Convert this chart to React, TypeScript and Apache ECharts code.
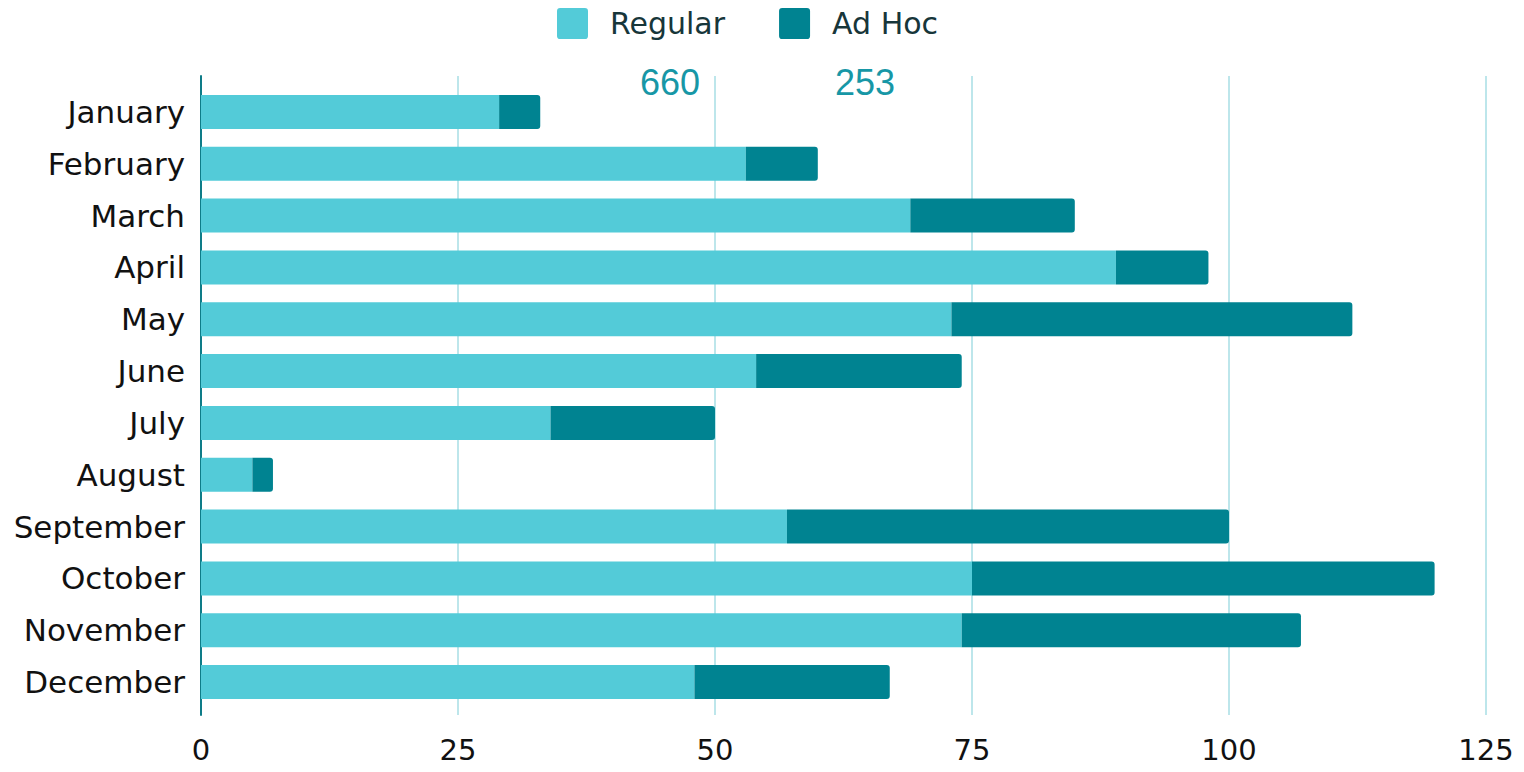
import React, { useEffect, useRef } from "react";
import * as echarts from "echarts";

const months = ["January","February","March","April","May","June","July","August","September","October","November","December"];
const regular = [29, 53, 69, 89, 73, 54, 34, 5, 57, 75, 74, 48];
const adHoc = [4, 7, 16, 9, 39, 20, 16, 2, 43, 45, 33, 19];
const seriesNames = ["Regular", "Ad Hoc"];
const colors = ["#53CBD8", "#008391"];

export default function App() {
  const ref = useRef<HTMLDivElement>(null);
  useEffect(() => {
    if (!ref.current) return;
    const chart = echarts.init(ref.current, null, { renderer: "svg" });
    const sumR = regular.reduce((a, b) => a + b, 0);
    const sumA = adHoc.reduce((a, b) => a + b, 0);
    const font = "DejaVu Sans";
    const icon = "path://M1,0 H9 A1,1 0 0 1 10,1 V9 A1,1 0 0 1 9,10 H1 A1,1 0 0 1 0,9 V1 A1,1 0 0 1 1,0 Z";
    chart.setOption({
      animation: false,
      textStyle: { fontFamily: font },
      legend: {
        left: 557,
        top: 8,
        padding: 0,
        itemWidth: 31,
        itemHeight: 31,
        itemGap: 54,
        icon,
        data: seriesNames,
        textStyle: { fontSize: 30, color: "#17363a", fontFamily: font, padding: [4, 0, 0, 17] },
      },
      graphic: [
        { type: "text", left: 640, top: 64, style: { text: String(sumR), font: "36px 'Liberation Sans'", fill: "#1797A6" } },
        { type: "text", left: 835, top: 64, style: { text: String(sumA), font: "36px 'Liberation Sans'", fill: "#1797A6" } },
      ],
      grid: [
        { left: 201, right: 38, top: 86, bottom: 64 },
        { left: 201, right: 38, top: 76, bottom: 57 },
      ],
      xAxis: [
        {
          type: "value", gridIndex: 0, min: 0, max: 125, interval: 25,
          axisLabel: { show: false }, splitLine: { show: false }, axisLine: { show: false }, axisTick: { show: false },
        },
        {
          type: "value", gridIndex: 1, min: 0, max: 125, interval: 25,
          axisLabel: { fontSize: 29, color: "#111", margin: 20, fontFamily: font },
          splitLine: { show: true, lineStyle: { color: "#BDE6EB", width: 2 } },
          axisLine: { show: false }, axisTick: { show: false },
        },
      ],
      yAxis: [
        {
          type: "category", gridIndex: 0, data: months, inverse: true,
          axisLabel: { fontSize: 31, color: "#111", margin: 16, fontFamily: font },
          axisLine: { show: false }, axisTick: { show: false },
        },
        {
          type: "value", gridIndex: 1, min: 0, max: 1, show: true,
          axisLabel: { show: false }, splitLine: { show: false }, axisTick: { show: false },
          axisLine: { show: true, lineStyle: { color: "#0E7C88", width: 2 } },
        },
      ],
      series: [
        { name: seriesNames[0], type: "bar", stack: "t", data: regular, barWidth: 34, xAxisIndex: 0, yAxisIndex: 0, itemStyle: { color: colors[0] } },
        { name: seriesNames[1], type: "bar", stack: "t", data: adHoc, barWidth: 34, xAxisIndex: 0, yAxisIndex: 0, itemStyle: { color: colors[1], borderRadius: [0, 3, 3, 0] } },
      ],
    });
    return () => chart.dispose();
  }, []);
  return <div ref={ref} style={{ position: "fixed", left: 0, top: 0, width: 1524, height: 772, background: "#fff" }} />;
}
